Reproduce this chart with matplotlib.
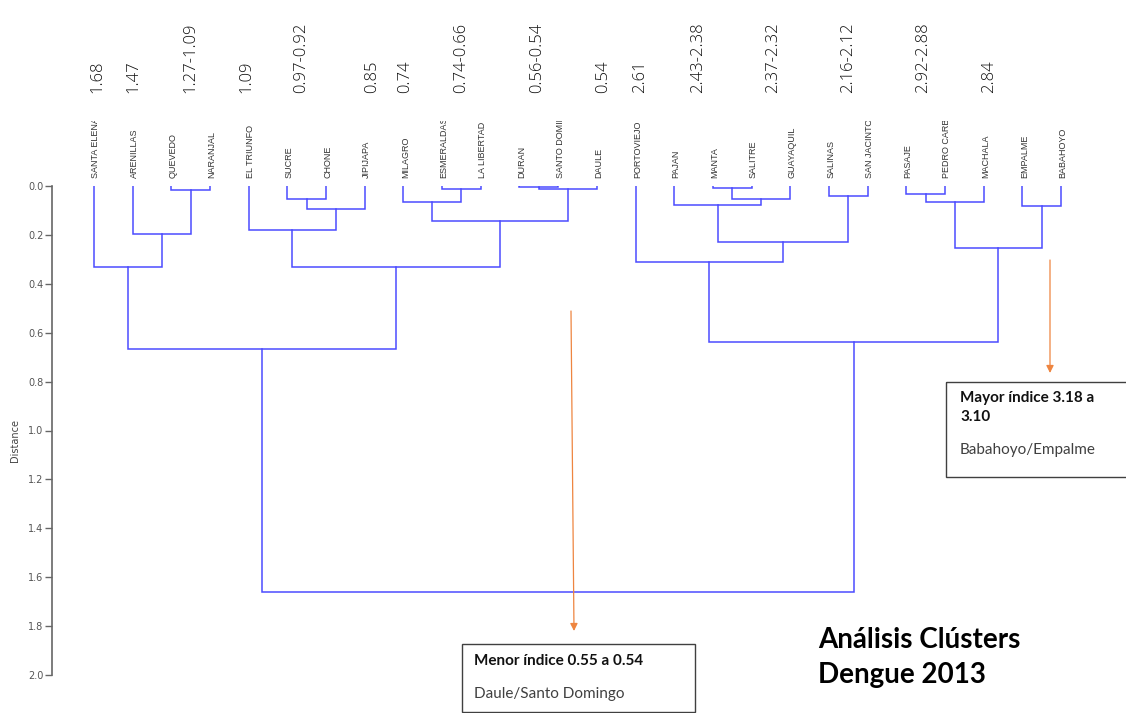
import numpy as np
import matplotlib
matplotlib.use("Agg")
import matplotlib.pyplot as plt
from matplotlib import transforms
from matplotlib.patches import Rectangle

# Leaves of the dendrogram, left to right
leaves = ["SANTA ELENA", "ARENILLAS", "QUEVEDO", "NARANJAL", "EL TRIUNFO",
          "SUCRE", "CHONE", "JIPIJAPA", "MILAGRO", "ESMERALDAS", "LA LIBERTAD",
          "DURAN", "SANTO DOMINGO", "DAULE", "PORTOVIEJO", "PAJAN", "MANTA",
          "SALITRE", "GUAYAQUIL", "SALINAS", "SAN JACINTO", "PASAJE",
          "PEDRO CARBO", "MACHALA", "EMPALME", "BABAHOYO"]

# Linkage: merge k joins clusters left_id[k] and right_id[k] at merge_dist[k]
# (ids < 26 are leaves, merge k creates cluster 26 + k)
left_id = [2, 1, 0, 5, 29, 4, 9, 8, 11, 34, 33, 31, 28,
           16, 39, 15, 19, 41, 14, 21, 45, 24, 46, 44, 38]
right_id = [3, 26, 27, 6, 7, 30, 10, 32, 12, 13, 35, 36, 37,
            17, 18, 40, 20, 42, 43, 22, 23, 25, 47, 48, 49]
merge_dist = [0.016, 0.196, 0.33, 0.053, 0.095, 0.18, 0.012, 0.067, 0.005,
              0.012, 0.142, 0.33, 0.667, 0.007, 0.053, 0.078, 0.04, 0.228,
              0.312, 0.034, 0.064, 0.08, 0.255, 0.638, 1.66]

# Index ranges printed above the leaves (text, leaf position)
range_text = ["1.68", "1.47", "1.27-1.09", "1.09", "0.97-0.92", "0.85", "0.74",
              "0.74-0.66", "0.56-0.54", "0.54", "2.61", "2.43-2.38",
              "2.37-2.32", "2.16-2.12", "2.92-2.88", "2.84"]
range_pos = [0.08, 1.03, 2.5, 3.95, 5.35, 7.2, 8.04, 9.5, 11.45, 13.15,
             14.12, 15.62, 17.55, 19.5, 21.43, 23.15]

W, H = 1126, 713
fig = plt.figure(figsize=(W / 100, H / 100), dpi=100)
fig.patch.set_facecolor("white")

# main axes: leaf 0 at x=94px, leaf 25 at x=1061px; 0.0 at y=186px, 2.0 at y=675px
step = (1061 - 94) / 25
x0, x1 = 52, 1100
ax = fig.add_axes([x0 / W, (H - 675) / H, (x1 - x0) / W, (675 - 186) / H])
ax.set_xlim((x0 - 94) / step, (x1 - 94) / step)
ax.set_ylim(2.0, 0.0)

# overlay in pixel units for labels and notes
ov = fig.add_axes([0, 0, 1, 1], zorder=5)
ov.set_xlim(0, W)
ov.set_ylim(H, 0)
ov.axis("off")
ov.patch.set_alpha(0)

n = len(leaves)
pos = {i: float(i) for i in range(n)}
hgt = {i: 0.0 for i in range(n)}
line_col = "#4b4bff"
for k, (a, b, d) in enumerate(zip(left_id, right_id, merge_dist)):
    xa, xb = pos[a], pos[b]
    ax.plot([xa, xa, xb, xb], [hgt[a], d, d, hgt[b]], color=line_col,
            lw=1.1, solid_joinstyle="miter")
    pos[n + k] = (xa + xb) / 2
    hgt[n + k] = d

for s in ["top", "right", "bottom"]:
    ax.spines[s].set_visible(False)
ax.spines["left"].set_color("#666666")
ax.spines["left"].set_linewidth(1.2)
ax.set_xticks([])
ax.set_yticks(np.arange(0, 2.01, 0.2))
ax.set_yticklabels([f"{v:.1f}" for v in np.arange(0, 2.01, 0.2)])
ax.tick_params(axis="y", direction="out", length=5, width=1, color="#666666",
               labelsize=7, labelcolor="#555555", pad=1)

mix = transforms.blended_transform_factory(ax.transData, ov.transData)

# leaf names, cut off at a fixed length
clip = transforms.TransformedBbox(
    transforms.Bbox.from_extents(0, (H - 186) / H, 1, (H - 121) / H),
    fig.transFigure)
for i, name in enumerate(leaves):
    t = ov.text(i + 0.05, 178, name, transform=mix, rotation=90, ha="center",
                va="bottom", fontsize=6.5, color="#333333",
                family=["Liberation Sans", "DejaVu Sans"])
    t.set_clip_box(clip)
    t.set_clip_on(True)

for txt, p in zip(range_text, range_pos):
    ov.text(p, 93, txt, transform=mix, rotation=90, ha="center", va="bottom",
            fontsize=12, color="#111111", family=["Open Sans", "DejaVu Sans"],
            fontweight="light")

ov.text(15, 440, "Distance", rotation=90, ha="center", va="center",
        fontsize=7, color="#444444")

# notes
arrow_col = "#ee8540"
ov.annotate("", xy=(574, 631), xytext=(571, 311),
            arrowprops=dict(arrowstyle="-|>", color=arrow_col, lw=0.9,
                            mutation_scale=11, shrinkA=0, shrinkB=0))
ov.annotate("", xy=(1050, 373), xytext=(1050, 260),
            arrowprops=dict(arrowstyle="-|>", color=arrow_col, lw=0.9,
                            mutation_scale=11, shrinkA=0, shrinkB=0))

ov.add_patch(Rectangle((462, 644), 233, 68, fill=False, ec="#404040", lw=1))
ov.text(474, 661, "Menor índice 0.55 a 0.54", fontsize=11, fontweight="bold",
        family="Lato", va="center", color="#111111")
ov.text(474, 694, "Daule/Santo Domingo", fontsize=11, family="Lato",
        va="center", color="#404040")

ov.add_patch(Rectangle((946, 382), 190, 95, fill=False, ec="#404040", lw=1))
ov.text(960, 398, "Mayor índice 3.18 a", fontsize=11, fontweight="bold",
        family="Lato", va="center", color="#111111")
ov.text(960, 417, "3.10", fontsize=11, fontweight="bold",
        family="Lato", va="center", color="#111111")
ov.text(960, 450, "Babahoyo/Empalme", fontsize=11, family="Lato",
        va="center", color="#404040")

ov.text(818, 640, "Análisis Clústers", fontsize=20, fontweight="bold",
        family="Lato", va="center", ha="left", color="#000000")
ov.text(818, 675, "Dengue 2013", fontsize=20, fontweight="bold",
        family="Lato", va="center", ha="left", color="#000000")

fig.savefig("out.png", dpi=100)
